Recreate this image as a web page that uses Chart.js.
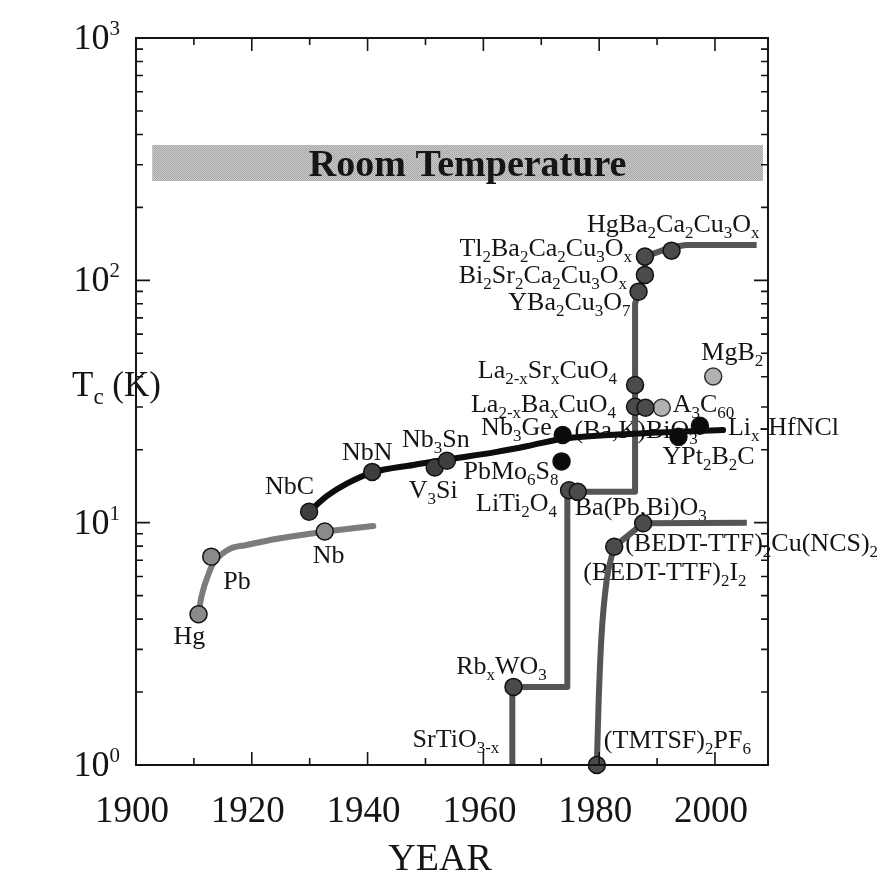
<!DOCTYPE html>
<html>
<head>
<meta charset="utf-8">
<script src="https://cdn.jsdelivr.net/npm/chart.js@4.4.1/dist/chart.umd.min.js"></script>
<style>
  html, body { margin: 0; padding: 0; background: #fff; }
  canvas { display: block; }
</style>
</head>
<body>
<canvas id="tc" width="891" height="873"></canvas>
<script>
// ---------- discovery data: year and critical temperature Tc (K) ----------
// pure elements
const elementNames = ['Hg', 'Pb', 'Nb'];
const elementYears = [1910.8, 1913.0, 1932.6];
const elementTc    = [4.19, 7.24, 9.2];

// carbides, nitrides, A15 compounds on the conventional trend
const a15Names = ['NbC', 'NbN', 'V_{3}Si', 'Nb_{3}Sn'];
const a15Years = [1929.9, 1940.8, 1951.6, 1953.7];
const a15Tc    = [11.1, 16.2, 16.9, 18.0];

// other intermetallics / Chevrel / borocarbide / nitride-chloride
const blackNames = ['Nb_{3}Ge', 'PbMo_{6}S_{8}', 'YPt_{2}B_{2}C', 'Li_{x}-HfNCl'];
const blackYears = [1973.7, 1973.5, 1993.7, 1997.4];
const blackTc    = [23.0, 17.9, 22.6, 25.1];

// oxides, cuprates and organic salts
const oxideNames = ['Rb_{x}WO_{3}', 'LiTi_{2}O_{4}', 'Ba(Pb,Bi)O_{3}',
  'La_{2-x}Ba_{x}CuO_{4}', 'La_{2-x}Sr_{x}CuO_{4}', '(Ba,K)BiO_{3}',
  'YBa_{2}Cu_{3}O_{7}', 'Bi_{2}Sr_{2}Ca_{2}Cu_{3}O_{x}', 'Tl_{2}Ba_{2}Ca_{2}Cu_{3}O_{x}',
  'HgBa_{2}Ca_{2}Cu_{3}O_{x}', '(TMTSF)_{2}PF_{6}', '(BEDT-TTF)_{2}I_{2}',
  '(BEDT-TTF)_{2}Cu(NCS)_{2}'];
const oxideYears = [1965.2, 1974.8, 1976.3, 1986.2, 1986.2, 1988.0, 1986.8, 1987.9,
  1987.9, 1992.5, 1979.6, 1982.6, 1987.6];
const oxideTc    = [2.1, 13.6, 13.4, 30.1, 37.0, 29.8, 89.8, 105.3, 125.3, 132.6,
  1.0, 7.96, 9.94];

// fullerides and MgB2
const lightNames = ['A_{3}C_{60}', 'MgB_{2}'];
const lightYears = [1990.8, 1999.7];
const lightTc    = [29.8, 40.1];

// start of the oxide ladder (no marker)
const plainNames = ['SrTiO_{3-x}'];
const plainYears = [1965.0];
const plainTc    = [1.0];

// ---------- trend lines ----------
const elementTrendYears = [1910.8, 1911.3, 1912.8, 1913.5, 1916.2, 1919.1, 1924.9, 1932.6, 1941.0];
const elementTrendTc    = [4.19, 4.95, 6.38, 6.88, 7.79, 8.09, 8.62, 9.18, 9.69];

const compoundTrendYears = [1929.9, 1933.0, 1936.4, 1940.8, 1947.9, 1955.0, 1962.3, 1968.0, 1973.8, 1985.9, 2001.4];
const compoundTrendTc    = [11.1, 12.9, 14.5, 16.1, 17.3, 18.4, 19.6, 20.8, 22.2, 23.3, 24.1];

const oxideStepYears = [1965.0, 1965.0, 1974.5, 1974.5, 1986.2, 1986.2, 1986.8, 1987.9, 1987.9, 1992.5, 1995.0, 2007.2];
const oxideStepTc    = [1.0, 2.1, 2.1, 13.4, 13.4, 80.0, 89.8, 105.3, 125.3, 137.0, 140.0, 140.0];

const organicRiseYears = [1979.6, 1979.9, 1980.4, 1981.3, 1982.6];
const organicRiseTc    = [1.0, 1.8, 3.4, 5.8, 7.96];
const organicPlateauYears = [1982.6, 1987.6, 2005.5];
const organicPlateauTc    = [7.96, 9.94, 10.0];

// room-temperature band
const roomTempYears = [1902.8, 2008.3];
const roomTempTc    = [257, 362];

// ---------- axes ----------
const yearMin = 1900, yearMax = 2009.16;
const tcMin = 1, tcMax = 1000;
const xTickValues = [1900, 1920, 1940, 1960, 1980, 2000];
const xMinorTicks = [1910, 1930, 1950, 1970, 1990];
const yTickValues = [1, 10, 100, 1000];
const yTickLabels = ['10^{0}', '10^{1}', '10^{2}', '10^{3}'];
const xTitle = 'YEAR';
const yTitle = 'T_{c} (K)';
const bandTitle = 'Room Temperature';

// ---------- label placement (pixel offset from marker, alignment) ----------
const labelPlacement = {
  'Hg': [-25, 30, 'left'],
  'Pb': [12, 32, 'left'],
  'Nb': [-12, 32, 'left'],
  'NbC': [5, -18, 'right'],
  'NbN': [-5, -12, 'center'],
  'V_{3}Si': [-26, 31, 'left'],
  'Nb_{3}Sn': [-11, -14, 'center'],
  'Nb_{3}Ge': [-11, 0, 'right'],
  'PbMo_{6}S_{8}': [-3, 18, 'right'],
  'YPt_{2}B_{2}C': [-16, 27, 'left'],
  'Li_{x}-HfNCl': [28, 9, 'left'],
  'Rb_{x}WO_{3}': [-12, -13, 'center'],
  'LiTi_{2}O_{4}': [-12, 21, 'right'],
  'Ba(Pb,Bi)O_{3}': [-3, 23, 'left'],
  'La_{2-x}Ba_{x}CuO_{4}': [-19, 5, 'right'],
  'La_{2-x}Sr_{x}CuO_{4}': [-18, -7, 'right'],
  '(Ba,K)BiO_{3}': [-71, 30, 'left'],
  'YBa_{2}Cu_{3}O_{7}': [-8, 18, 'right'],
  'Bi_{2}Sr_{2}Ca_{2}Cu_{3}O_{x}': [-18, 8, 'right'],
  'Tl_{2}Ba_{2}Ca_{2}Cu_{3}O_{x}': [-13, -1, 'right'],
  'HgBa_{2}Ca_{2}Cu_{3}O_{x}': [88, -19, 'right'],
  '(TMTSF)_{2}PF_{6}': [7, -17, 'left'],
  '(BEDT-TTF)_{2}I_{2}': [-31, 33, 'left'],
  '(BEDT-TTF)_{2}Cu(NCS)_{2}': [-18, 28, 'left'],
  'A_{3}C_{60}': [11, 4, 'left'],
  'MgB_{2}': [50, -17, 'right'],
  'SrTiO_{3-x}': [-13, -18, 'right']
};

const SERIF = '"Liberation Serif", "Times New Roman", Times, serif';
const INK = '#151515';

function zip(xs, ys) { return xs.map((x, i) => ({ x, y: ys[i] })); }

// text with _{sub} and ^{sup} runs
function parseRich(text) {
  const parts = [];
  const re = /([_^])\{([^}]*)\}/g;
  let last = 0, m;
  while ((m = re.exec(text))) {
    if (m.index > last) parts.push({ t: text.slice(last, m.index), k: '' });
    parts.push({ t: m[2], k: m[1] });
    last = re.lastIndex;
  }
  if (last < text.length) parts.push({ t: text.slice(last), k: '' });
  return parts;
}

function drawRich(ctx, text, x, y, align, size, o = {}) {
  const small = o.small || Math.round(size * 0.65);
  const drop = o.drop !== undefined ? o.drop : size * 0.24;
  const rise = o.rise !== undefined ? o.rise : size * 0.42;
  const weight = o.weight || 'normal';
  const parts = parseRich(text);
  const fontFor = k => `${weight} ${k ? small : size}px ${SERIF}`;
  let total = 0;
  parts.forEach(p => { ctx.font = fontFor(p.k); p.w = ctx.measureText(p.t).width; total += p.w; });
  let cx = align === 'right' ? x - total : align === 'center' ? x - total / 2 : x;
  ctx.textAlign = 'left';
  ctx.textBaseline = 'alphabetic';
  parts.forEach(p => {
    ctx.font = fontFor(p.k);
    ctx.fillText(p.t, cx, y + (p.k === '_' ? drop : p.k === '^' ? -rise : 0));
    cx += p.w;
  });
}

// fine halftone screen for the band
function screenPattern(ctx) {
  const c = document.createElement('canvas');
  c.width = 2; c.height = 2;
  const g = c.getContext('2d');
  g.fillStyle = '#cdcdcd'; g.fillRect(0, 0, 2, 2);
  g.fillStyle = '#a4a4a4'; g.fillRect(0, 0, 1, 1); g.fillRect(1, 1, 1, 1);
  return ctx.createPattern(c, 'repeat');
}

const labelGroups = [
  [elementNames, elementYears, elementTc],
  [a15Names, a15Years, a15Tc],
  [blackNames, blackYears, blackTc],
  [oxideNames, oxideYears, oxideTc],
  [lightNames, lightYears, lightTc],
  [plainNames, plainYears, plainTc]
];

const figurePlugin = {
  id: 'figure',
  beforeDatasetsDraw(chart) {
    const { ctx, scales: { x, y } } = chart;
    ctx.save();
    // room temperature band
    const bx0 = x.getPixelForValue(roomTempYears[0]);
    const bx1 = x.getPixelForValue(roomTempYears[1]);
    const by0 = y.getPixelForValue(roomTempTc[1]);
    const by1 = y.getPixelForValue(roomTempTc[0]);
    ctx.fillStyle = screenPattern(ctx);
    ctx.fillRect(bx0, by0, bx1 - bx0, by1 - by0);
    ctx.fillStyle = INK;
    drawRich(ctx, bandTitle, (bx0 + bx1) / 2 + 10, by1 - 5, 'center', 38, { weight: 'bold' });

    // material labels
    ctx.fillStyle = INK;
    labelGroups.forEach(([names, years, tcs]) => {
      names.forEach((n, i) => {
        const p = labelPlacement[n] || [0, -14, 'center'];
        const px = x.getPixelForValue(years[i]);
        const py = y.getPixelForValue(tcs[i]);
        drawRich(ctx, n, px + p[0], py + p[1], p[2], 26, { small: 17, drop: 6 });
      });
    });
    ctx.restore();
  },
  afterDraw(chart) {
    const { ctx, chartArea: a, scales: { x, y } } = chart;
    ctx.save();
    ctx.strokeStyle = INK;
    ctx.lineWidth = 2;
    ctx.strokeRect(a.left, a.top, a.right - a.left, a.bottom - a.top);

    ctx.lineWidth = 1.6;
    ctx.beginPath();
    const xTick = (v, len) => {
      const px = x.getPixelForValue(v);
      ctx.moveTo(px, a.bottom); ctx.lineTo(px, a.bottom - len);
      ctx.moveTo(px, a.top); ctx.lineTo(px, a.top + len);
    };
    xTickValues.forEach(v => xTick(v, 13));
    xMinorTicks.forEach(v => xTick(v, 7));
    const yTick = (v, len) => {
      const py = y.getPixelForValue(v);
      ctx.moveTo(a.left, py); ctx.lineTo(a.left + len, py);
      ctx.moveTo(a.right, py); ctx.lineTo(a.right - len, py);
    };
    yTickValues.forEach(v => yTick(v, 14));
    for (let d = 0; d < yTickValues.length - 1; d++) {
      for (let k = 2; k <= 9; k++) yTick(yTickValues[d] * k, 7);
    }
    ctx.stroke();

    ctx.fillStyle = INK;
    xTickValues.forEach(v => {
      drawRich(ctx, String(v), x.getPixelForValue(v) - 4, 822, 'center', 37);
    });
    yTickValues.forEach((v, i) => {
      drawRich(ctx, yTickLabels[i], 120, y.getPixelForValue(v) + 11, 'right', 36, { small: 21, rise: 14 });
    });
    drawRich(ctx, xTitle, 440, 870, 'center', 38);
    drawRich(ctx, yTitle, 72, 396, 'left', 35, { small: 23, drop: 8 });
    ctx.restore();
  }
};

const lineBase = { showLine: true, pointRadius: 0, borderWidth: 6, fill: false,
  borderCapStyle: 'round', borderJoinStyle: 'round', clip: false, order: 2 };
const dotBase = { showLine: false, pointRadius: 8.5, pointBorderWidth: 1.5,
  pointBorderColor: '#111', clip: false, order: 0 };

new Chart(document.getElementById('tc'), {
  type: 'scatter',
  data: {
    datasets: [
      Object.assign({}, dotBase, { label: 'elements', data: zip(elementYears, elementTc), pointBackgroundColor: '#8a8a8a' }),
      Object.assign({}, dotBase, { label: 'A15 and related', data: zip(a15Years, a15Tc), pointBackgroundColor: '#3e3e3e' }),
      Object.assign({}, dotBase, { label: 'intermetallics', data: zip(blackYears, blackTc), pointBackgroundColor: '#0b0b0b' }),
      Object.assign({}, dotBase, { label: 'oxides and organics', data: zip(oxideYears, oxideTc), pointBackgroundColor: '#4b4b4b' }),
      Object.assign({}, dotBase, { label: 'fullerides, MgB2', data: zip(lightYears, lightTc), pointBackgroundColor: '#b2b2b2', pointBorderColor: '#333' }),
      Object.assign({}, lineBase, { label: 'element trend', data: zip(elementTrendYears, elementTrendTc), borderColor: '#7c7c7c', cubicInterpolationMode: 'monotone' }),
      Object.assign({}, lineBase, { label: 'compound trend', data: zip(compoundTrendYears, compoundTrendTc), borderColor: '#0d0d0d', cubicInterpolationMode: 'monotone' }),
      Object.assign({}, lineBase, { label: 'oxide ladder', data: zip(oxideStepYears, oxideStepTc), borderColor: '#555', tension: 0, borderCapStyle: 'butt' }),
      Object.assign({}, lineBase, { label: 'organic rise', data: zip(organicRiseYears, organicRiseTc), borderColor: '#555', cubicInterpolationMode: 'monotone', borderCapStyle: 'butt' }),
      Object.assign({}, lineBase, { label: 'organic plateau', data: zip(organicPlateauYears, organicPlateauTc), borderColor: '#555', tension: 0, borderCapStyle: 'butt' })
    ]
  },
  options: {
    responsive: false,
    animation: false,
    devicePixelRatio: 1,
    layout: { padding: { left: 136, right: 123, top: 38, bottom: 108 } },
    scales: {
      x: { type: 'linear', min: yearMin, max: yearMax, display: false },
      y: { type: 'logarithmic', min: tcMin, max: tcMax, display: false }
    },
    plugins: { legend: { display: false }, tooltip: { enabled: false } }
  },
  plugins: [figurePlugin]
});
</script>
</body>
</html>
